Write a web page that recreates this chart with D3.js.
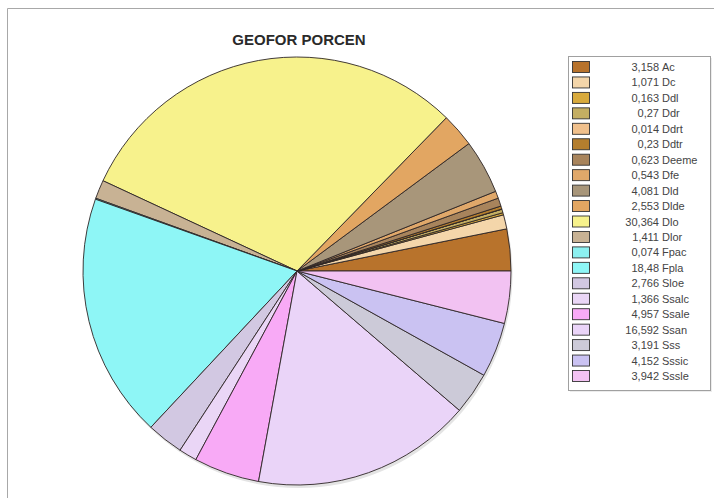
<!DOCTYPE html>
<html>
<head>
<meta charset="utf-8">
<script src="https://cdn.jsdelivr.net/npm/d3@7/dist/d3.min.js"></script>
<style>
html,body{margin:0;padding:0;background:#fff;}
svg{display:block;font-family:"Liberation Sans",Arial,sans-serif;}
</style>
</head>
<body>
<svg id="chart" width="714" height="498"></svg>
<script>
const title = "GEOFOR PORCEN";
const categories = ["Ac","Dc","Ddl","Ddr","Ddrt","Ddtr","Deeme","Dfe","Dld","Dlde","Dlo","Dlor","Fpac","Fpla","Sloe","Ssalc","Ssale","Ssan","Sss","Sssic","Sssle"];
const values = [3.158,1.071,0.163,0.27,0.014,0.23,0.623,0.543,4.081,2.553,30.364,1.411,0.074,18.48,2.766,1.366,4.957,16.592,3.191,4.152,3.942];
const valueLabels = ["3,158","1,071","0,163","0,27","0,014","0,23","0,623","0,543","4,081","2,553","30,364","1,411","0,074","18,48","2,766","1,366","4,957","16,592","3,191","4,152","3,942"];
const colors = ["#b8732c","#f4d6aa","#d8aa3c","#c4ae62","#f0c08c","#b47e2e","#a8845c","#e0a86a","#a8967a","#e2a662","#f7f28c","#c8b294","#8cf0f0","#8ef6f6","#d2c8e2","#ead6f6","#f8aaf6","#ead4f8","#cccad8","#cac2f2","#f2c2f2"];

const svg = d3.select("#chart");
const W = 714, H = 498;

// outer frame
svg.append("path").attr("d", `M7.5,${H} L7.5,8.5 L${W},8.5`).attr("fill","none").attr("stroke","#a8a8a8").attr("stroke-width",1);

// title
svg.append("text").attr("x", 299).attr("y", 45).attr("text-anchor","middle")
  .attr("font-size", 15).attr("font-weight","bold").attr("fill","#2a2a2a").text(title);

// pie
const cx = 297, cy = 271, r = 214;
const data = categories.map((c,i)=>({name:c, value:values[i], color:colors[i], label:valueLabels[i]}));
const pie = d3.pie().sort(null).value(d=>d.value).startAngle(Math.PI/2).endAngle(Math.PI/2 - 2*Math.PI);
const arc = d3.arc().innerRadius(0).outerRadius(r);
const g = svg.append("g").attr("transform", `translate(${cx},${cy})`);
g.append("circle").attr("r", r).attr("cx",1.5).attr("cy",3).attr("fill","#e4e4e4");
g.selectAll("path.slice").data(pie(data)).join("path").attr("class","slice")
  .attr("d", arc).attr("fill", d=>d.data.color)
  .attr("stroke","#2e2626").attr("stroke-width",0.9).attr("stroke-linejoin","round");

// legend
const lx = 568, ly = 56, lw = 142, lh = 334;
svg.append("rect").attr("x", lx+2).attr("y", ly+2).attr("width", lw).attr("height", lh).attr("fill","#ececec");
svg.append("rect").attr("x", lx+0.5).attr("y", ly+0.5).attr("width", lw).attr("height", lh).attr("fill","#fff").attr("stroke","#a0a0a0");
const step = 15.45;
const rows = svg.selectAll("g.leg").data(data).join("g").attr("class","leg")
  .attr("transform",(d,i)=>`translate(${lx},${ly + 11 + i*step})`);
rows.append("rect").attr("x", 4.5).attr("y", -5.5).attr("width", 17).attr("height", 11)
  .attr("fill", d=>d.color).attr("stroke","#333").attr("stroke-width",0.9);
rows.append("text").attr("x", 91).attr("y", 4).attr("text-anchor","end")
  .attr("font-size", 11).attr("fill","#444").text(d=>d.label);
rows.append("text").attr("x", 94).attr("y", 4).attr("text-anchor","start")
  .attr("font-size", 11).attr("fill","#444").text(d=>d.name);
</script>
</body>
</html>
